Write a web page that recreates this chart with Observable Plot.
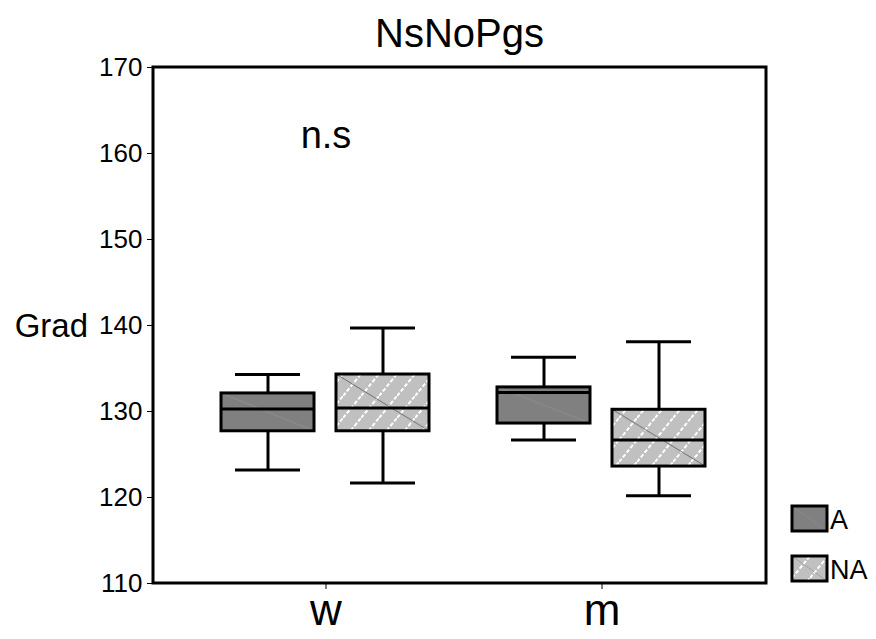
<!DOCTYPE html>
<html><head><meta charset="utf-8">
<script src="https://cdn.jsdelivr.net/npm/d3@7"></script>
<script src="https://cdn.jsdelivr.net/npm/@observablehq/plot@0.6"></script>
<style>
body{margin:0;background:#fff;}
#chart{width:876px;height:639px;}
#chart svg [aria-label^="y-axis"] text{font-size:26px !important;}
#chart svg [aria-label^="fx-axis"] text{font-size:44px !important;}
</style>
</head><body><div id="chart"></div>
<script>
// ---- data ----
const groupNames = ["w", "m"];
const seriesNames = ["A", "NA"];
const groups = ["w", "w", "m", "m"];
const series = ["A", "NA", "A", "NA"];
const whiskerLow = [123.2, 121.7, 126.7, 120.2];
const q1 = [127.7, 127.7, 128.6, 123.6];
const median = [130.3, 130.4, 132.2, 126.7];
const q3 = [132.1, 134.3, 132.8, 130.2];
const whiskerHigh = [134.3, 139.7, 136.3, 138.1];
const yTicks = [110, 120, 130, 140, 150, 160, 170];
const titleText = "NsNoPgs";
const yLabel = "Grad";
const annotation = [{group: "w", value: 162, text: "n.s"}];

const data = groups.map((g, i) => ({
  group: g, series: series[i], low: whiskerLow[i], q1: q1[i],
  med: median[i], q3: q3[i], high: whiskerHigh[i]
}));
const dataA = data.filter(d => d.series === "A");
const dataNA = data.filter(d => d.series === "NA");

const W = 876, H = 639, mL = 153, mR = 102, mT = 67, mB = 56;
const frameRight = 766; // right edge of the drawn frame
const font = "'Liberation Sans', Arial, sans-serif";
const sw = 3;

const plot = Plot.plot({
  width: W, height: H,
  marginLeft: mL, marginRight: mR, marginTop: mT, marginBottom: mB,
  style: {fontFamily: font, fontSize: "26px", background: "white", color: "black", overflow: "visible"},
  fx: {domain: groupNames, paddingInner: -0.2419, paddingOuter: 0,
       label: null, axis: "bottom", tickSize: 6, tickPadding: 4},
  x: {domain: seriesNames, paddingInner: 0.19, paddingOuter: 0.578, axis: null},
  y: {domain: [110, 170], ticks: yTicks, tickSize: 7, tickPadding: 5, label: null, tickFormat: d => String(d)},
  marks: [
    Plot.ruleX(data, {fx: "group", x: "series", y1: "low", y2: "high", stroke: "black", strokeWidth: sw}),
    Plot.barY(dataA, {fx: "group", x: "series", y1: "q1", y2: "q3", fill: "#808080"}),
    Plot.barY(dataNA, {fx: "group", x: "series", y1: "q1", y2: "q3", fill: "url(#hatchNA)"}),
    Plot.barY(dataA, {fx: "group", x: "series", y1: "q1", y2: "q3", fill: "url(#diagA)"}),
    Plot.barY(dataNA, {fx: "group", x: "series", y1: "q1", y2: "q3", fill: "url(#diagNA)"}),
    Plot.barY(data, {fx: "group", x: "series", y1: "q1", y2: "q3", fill: "none", stroke: "black", strokeWidth: sw}),
    Plot.tickY(data, {fx: "group", x: "series", y: "med", stroke: "black", strokeWidth: sw}),
    Plot.tickY(data, {fx: "group", x: "series", y: "low", stroke: "black", strokeWidth: sw, insetLeft: 14, insetRight: 14}),
    Plot.tickY(data, {fx: "group", x: "series", y: "high", stroke: "black", strokeWidth: sw, insetLeft: 14, insetRight: 14}),
    Plot.text(annotation, {fx: "group", y: "value", text: "text", fontSize: 38, fill: "black"})
  ]
});

document.getElementById("chart").appendChild(plot);
const svg = d3.select(plot);

// pattern definitions
const defs = svg.insert("defs", ":first-child");
const hatch = defs.append("pattern").attr("id", "hatchNA")
  .attr("patternUnits", "userSpaceOnUse").attr("width", 18).attr("height", 22);
hatch.append("rect").attr("width", 18).attr("height", 22).attr("fill", "#c0c0c0");
hatch.append("line").attr("x1", 0).attr("y1", 22).attr("x2", 18).attr("y2", 0)
  .attr("stroke", "white").attr("stroke-width", 2).attr("stroke-dasharray", "4 2");
function diag(id, color) {
  const p = defs.append("pattern").attr("id", id)
    .attr("patternUnits", "objectBoundingBox").attr("patternContentUnits", "objectBoundingBox")
    .attr("width", 1).attr("height", 1);
  p.append("line").attr("x1", 0).attr("y1", 0).attr("x2", 1).attr("y2", 1)
    .attr("stroke", color).attr("stroke-width", 0.012);
}
diag("diagA", "#959595");
diag("diagNA", "#6a6a6a");

// frame around plot area
svg.append("rect").attr("x", mL).attr("y", mT)
  .attr("width", frameRight - mL).attr("height", H - mT - mB)
  .attr("fill", "none").attr("stroke", "black").attr("stroke-width", sw);

// title
svg.append("text").attr("x", (mL + frameRight) / 2).attr("y", 47)
  .attr("text-anchor", "middle").attr("font-size", 40).attr("font-family", font)
  .attr("fill", "black").text(titleText);

// y label
const yScale = plot.scale("y");
svg.append("text").attr("x", 88).attr("y", yScale.apply(140))
  .attr("dy", "0.35em").attr("text-anchor", "end").attr("font-size", 33)
  .attr("font-family", font).attr("fill", "black").text(yLabel);

// legend
const legend = svg.append("g").attr("transform", `translate(${frameRight + 26},0)`);
const fills = {A: ["#808080", "url(#diagA)"], NA: ["url(#hatchNA)", "url(#diagNA)"]};
seriesNames.forEach((s, i) => {
  const top = 506 + i * 50;
  const g = legend.append("g").attr("transform", `translate(0,${top})`);
  g.append("rect").attr("width", 35).attr("height", 25).attr("fill", fills[s][0]);
  g.append("rect").attr("width", 35).attr("height", 25).attr("fill", fills[s][1])
    .attr("stroke", "black").attr("stroke-width", sw);
  g.append("text").attr("x", 38).attr("y", 13).attr("dy", "0.36em").attr("text-anchor", "start")
    .attr("font-size", 27).attr("font-family", font).attr("fill", "black").text(s);
});
</script>
</body></html>
